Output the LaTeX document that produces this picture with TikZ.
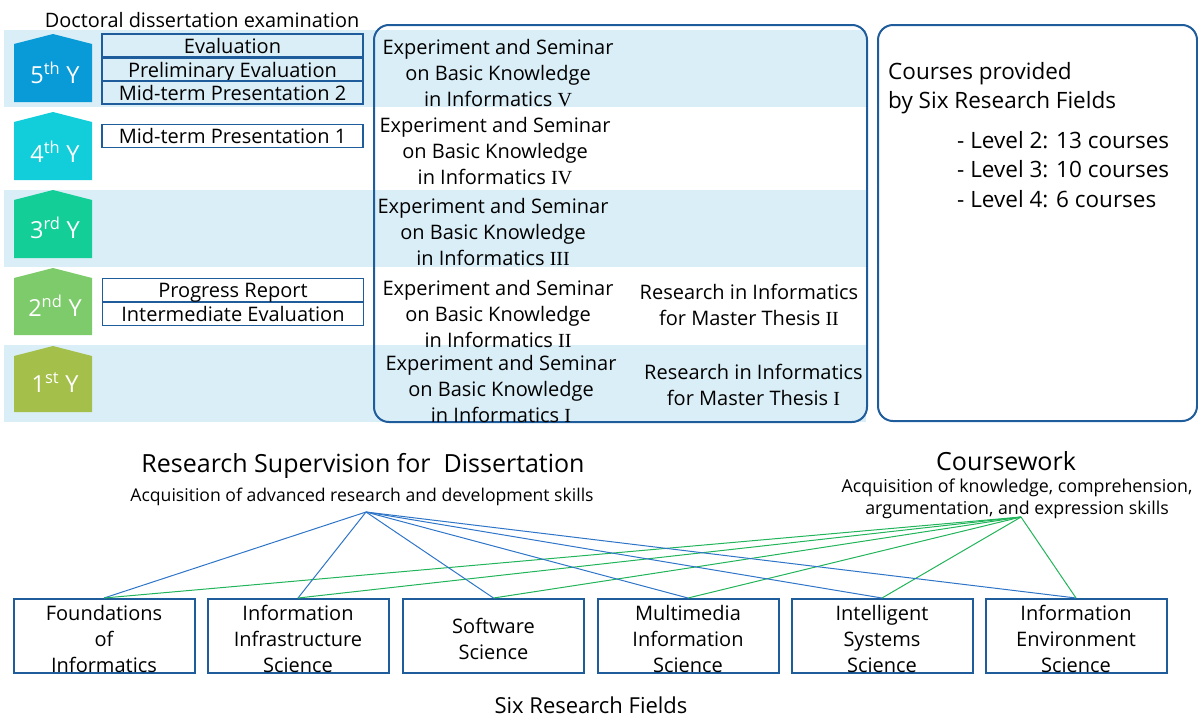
\documentclass[tikz,border=0pt]{standalone}
\usepackage{fontspec}
\setmainfont{Open Sans}
\newfontfamily\romfont{Liberation Serif}
\definecolor{bandblue}{RGB}{218,238,247}
\definecolor{yfive}{RGB}{8,155,215}
\definecolor{yfour}{RGB}{18,206,218}
\definecolor{ythree}{RGB}{20,206,152}
\definecolor{ytwo}{RGB}{125,203,106}
\definecolor{yone}{RGB}{165,192,74}
\definecolor{boxblue}{RGB}{31,92,156}
\definecolor{lineblue}{RGB}{46,117,200}
\definecolor{linegreen}{RGB}{34,180,90}
\newcommand{\fs}[2]{\fontsize{#1}{#2}\selectfont}
\newcommand{\rn}[1]{{\romfont #1}}
\begin{document}
\begin{tikzpicture}[x=1pt,y=-1pt,
  band/.style={fill=bandblue,draw=none},
  yearlbl/.style={text=white,font=\fs{23.5}{26},inner sep=0},
  evbox/.style={draw=boxblue,line width=1.5pt,minimum width=261pt,minimum height=23pt,inner sep=0,text height=19pt,text depth=4pt,font=\fs{20}{24}},
  course/.style={align=center,font=\fs{20}{26},inner sep=0},
  frame/.style={draw=boxblue,line width=2pt,rounded corners=15pt},
  field/.style={draw=boxblue,line width=2pt,minimum width=181pt,minimum height=74pt,inner sep=0},
  fieldtxt/.style={inner sep=0,align=center,font=\fs{20}{26}},
  sup/.style={draw=lineblue,line width=1pt},
  cw/.style={draw=linegreen,line width=1pt}]
\useasboundingbox (0,0) rectangle (1198,718);
% bands
\fill[band] (4,30) rectangle (866,107);
\fill[band] (4,190) rectangle (866,267);
\fill[band] (4,345) rectangle (866,422);
% year shapes
\fill[yfive] (14,44) -- (53,34) -- (92,44) -- (92,102) -- (14,102) -- cycle;
\fill[yfour] (14,122) -- (53,112) -- (92,122) -- (92,180) -- (14,180) -- cycle;
\fill[ythree] (14,200) -- (53,190) -- (92,200) -- (92,258) -- (14,258) -- cycle;
\fill[ytwo] (14,278) -- (53,268) -- (92,278) -- (92,335) -- (14,335) -- cycle;
\fill[yone] (14,356) -- (53,346) -- (92,356) -- (92,412) -- (14,412) -- cycle;
\node[yearlbl] (y5) at (55,73) {5\textsuperscript{th} Y};
\node[yearlbl] (y4) at (55,152) {4\textsuperscript{th} Y};
\node[yearlbl] (y3) at (55,228) {3\textsuperscript{rd} Y};
\node[yearlbl] (y2) at (55,306) {2\textsuperscript{nd} Y};
\node[yearlbl] (y1) at (55,383) {1\textsuperscript{st} Y};
% title
\node[font=\fs{19.9}{24},inner sep=0] (doc) at (202,20) {Doctoral dissertation examination};
% evaluation boxes
\node[evbox] (ev) at (232.5,45.5) {Evaluation};
\node[evbox] (pre) at (232.5,69.5) {Preliminary Evaluation};
\node[evbox] (mid2) at (232.5,92.5) {Mid-term Presentation 2};
\node[evbox] (mid1) at (232.5,136) {Mid-term Presentation 1};
\node[evbox] (prog) at (233,290) {Progress Report};
\node[evbox] (inter) at (233,314) {Intermediate Evaluation};
% big frame
\draw[frame] (374,25) rectangle (867,422);
\node[course] (c5) at (498,73) {Experiment and Seminar\\on Basic Knowledge\\in Informatics \rn{V}};
\node[course] (c4) at (495,151.5) {Experiment and Seminar\\on Basic Knowledge\\in Informatics \rn{IV}};
\node[course] (c3) at (493,231.5) {Experiment and Seminar\\on Basic Knowledge\\in Informatics \rn{III}};
\node[course] (c2) at (498,313.5) {Experiment and Seminar\\on Basic Knowledge\\in Informatics \rn{II}};
\node[course] (c1) at (501,388.5) {Experiment and Seminar\\on Basic Knowledge\\in Informatics \rn{I}};
\node[course] (r2) at (749,305) {Research in Informatics\\for Master Thesis \rn{II}};
\node[course] (r1) at (753.5,384.5) {Research in Informatics\\for Master Thesis \rn{I}};
% right frame
\draw[frame] (878,25) rectangle (1197,421);
\node[anchor=north west,align=left,font=\fs{22.5}{29},inner sep=0] (cp) at (888,62) {Courses provided\\by Six Research Fields};
\node[anchor=north west,align=left,font=\fs{22.5}{29.5},inner sep=0] (lv) at (957,131) {- Level 2: 13 courses\\- Level 3: 10 courses\\- Level 4: 6 courses};
% headings
\node[font=\fs{25}{28},inner sep=0] (rsd) at (363,466) {Research Supervision for\ \ Dissertation};
\node[font=\fs{17.6}{21},inner sep=0] (rsdsub) at (362,497) {Acquisition of advanced research and development skills};
\node[font=\fs{25}{28},inner sep=0] (cwk) at (1006,461) {Coursework};
\node[align=center,font=\fs{17.8}{22.5},inner sep=0] (cwksub) at (1017,499) {Acquisition of knowledge, comprehension,\\argumentation, and expression skills};
% hubs
\coordinate (hb) at (366,512);
\coordinate (hg) at (1021,517);
% fields
\node[field] (f1) at (104,636) {};
\node[field] (f2) at (298,636) {};
\node[field] (f3) at (493.5,636) {};
\node[field] (f4) at (688,636) {};
\node[field] (f5) at (882,636) {};
\node[field] (f6) at (1076,636) {};
\node[fieldtxt] (t1) at ([yshift=-3pt]f1.center) {Foundations\\of\\Informatics};
\node[fieldtxt] (t2) at ([yshift=-3pt]f2.center) {Information\\Infrastructure\\Science};
\node[fieldtxt] (t3) at ([yshift=-3pt]f3.center) {Software\\Science};
\node[fieldtxt] (t4) at ([yshift=-3pt]f4.center) {Multimedia\\Information\\Science};
\node[fieldtxt] (t5) at ([yshift=-3pt]f5.center) {Intelligent\\Systems\\Science};
\node[fieldtxt] (t6) at ([yshift=-3pt]f6.center) {Information\\Environment\\Science};
\foreach \f in {f1,f2,f3,f4,f5,f6}{
  \draw[sup] (hb) -- (\f.north);
  \draw[cw] (hg) -- (\f.north);
}
\node[font=\fs{22}{26},inner sep=0] (six) at (591,705) {Six Research Fields};
\end{tikzpicture}
\end{document}
